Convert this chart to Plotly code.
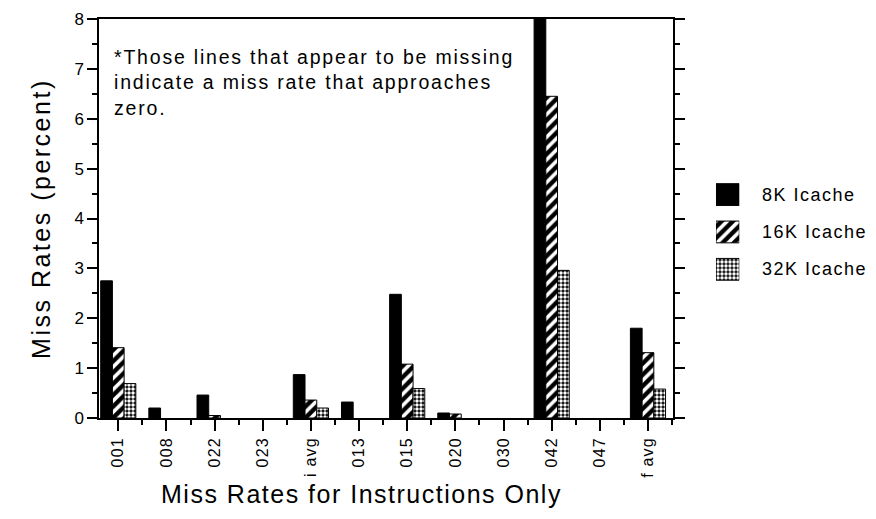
import plotly.graph_objects as go

# Benchmark programs along the x axis
programs = ["001", "008", "022", "023", "i avg", "013", "015", "020", "030", "042", "047", "f avg"]

# Instruction-cache miss rates (percent) for each cache size
series_names = ["8K Icache", "16K Icache", "32K Icache"]
miss_8k = [2.75, 0.20, 0.46, 0.0, 0.87, 0.32, 2.48, 0.10, 0.0, 8.0, 0.0, 1.80]
miss_16k = [1.41, 0.0, 0.05, 0.0, 0.36, 0.0, 1.08, 0.08, 0.0, 6.45, 0.0, 1.31]
miss_32k = [0.69, 0.0, 0.0, 0.0, 0.20, 0.0, 0.59, 0.0, 0.0, 2.96, 0.0, 0.58]

y_ticks = [0, 1, 2, 3, 4, 5, 6, 7, 8]

note_lines = [
    "*Those lines that appear to be missing",
    "indicate a miss rate that approaches",
    "zero.",
]
x_title = "Miss Rates for Instructions Only"
y_title = "Miss Rates (percent)"

FONT = "Liberation Sans, Arial, Helvetica, sans-serif"


def spaced(text, px):
    """Wrap text in a span with extra letter spacing (typewriter-like look)."""
    return f'<span style="letter-spacing:{px}px">{text}</span>'


# Fill styles: solid black, white stripes on black, fine dotted screen
fills = [
    dict(color="black", pattern=dict(shape="")),
    dict(color="black", pattern=dict(shape="/", bgcolor="black", fgcolor="white",
                                     size=8, solidity=0.45, fillmode="replace")),
    dict(color="white", pattern=dict(shape=".", bgcolor="black", fgcolor="white",
                                     size=4, solidity=0.6, fillmode="replace")),
]

values = [miss_8k, miss_16k, miss_32k]
positions = list(range(len(programs)))

fig = go.Figure()

for name, vals, fill in zip(series_names, values, fills):
    # bars at zero height get no outline so they vanish into the axis
    fig.add_trace(go.Bar(
        x=positions, y=vals, name=name,
        marker=dict(color=fill["color"], pattern=fill["pattern"],
                    line=dict(color="black", width=[1 if v > 0 else 0 for v in vals])),
        hoverinfo="skip", showlegend=False,
    ))

# Key swatches drawn as bars on a hidden side axis
for i, (name, fill) in enumerate(zip(series_names, fills)):
    fig.add_trace(go.Bar(
        x=[1], y=[i], orientation="h", xaxis="x2", yaxis="y2",
        width=[0.583], offset=-0.2915, name=name,
        marker=dict(color=fill["color"], pattern=fill["pattern"],
                    line=dict(color="black", width=1)),
        hoverinfo="skip", showlegend=False,
    ))

axis_line = dict(showline=True, linecolor="black", linewidth=1.5,
                 showgrid=False, zeroline=False)

fig.update_layout(
    width=876, height=519,
    margin=dict(l=99, r=10, t=15, b=101),
    paper_bgcolor="white", plot_bgcolor="white",
    barmode="group", bargap=0.27, bargroupgap=0,
    showlegend=False,
    font=dict(family=FONT, color="black"),
    xaxis=dict(
        domain=[0, 0.7484], range=[-0.4, 11.52],
        tickvals=positions, ticktext=[spaced(p, 1.2) for p in programs],
        tickangle=-90, tickfont=dict(size=16, family=FONT),
        ticks="outside", ticklen=11, tickwidth=1.5, tickcolor="black",
        ticklabelstandoff=0,
        mirror=True,
        minor=dict(tick0=0.5, dtick=1, ticks="outside", ticklen=5,
                   tickwidth=1.5, tickcolor="black", showgrid=False),
        **axis_line,
    ),
    yaxis=dict(
        range=[0, 8], tickvals=y_ticks,
        tickfont=dict(size=17, family=FONT),
        ticks="outside", ticklen=10, tickwidth=1.5, tickcolor="black",
        mirror="ticks",
        minor=dict(dtick=0.5, ticks="outside", ticklen=5,
                   tickwidth=1.5, tickcolor="black", showgrid=False),
        **axis_line,
    ),
    xaxis2=dict(domain=[0.8044, 0.8348], range=[0, 1], visible=False,
                anchor="y2", fixedrange=True),
    yaxis2=dict(domain=[0.3258, 0.6068], range=[2.5, -0.5], visible=False,
                anchor="x2", fixedrange=True),
)

annotations = []

# Key labels
for i, name in enumerate(series_names):
    annotations.append(dict(
        text=spaced(name, 1.5), xref="paper", yref="y2", x=0.862, y=i,
        xanchor="left", yanchor="middle", showarrow=False,
        font=dict(size=18, family=FONT, color="black"),
    ))

# Note inside the plot
annotations.append(dict(
    text="<br>".join(spaced(line, 1.8) for line in note_lines),
    xref="paper", yref="paper", x=0.017, y=0.937,
    xanchor="left", yanchor="top", align="left", showarrow=False,
    font=dict(size=19.5, family=FONT, color="black"),
))

# Axis titles
annotations.append(dict(
    text=spaced(x_title, 1.5), xref="paper", yref="paper",
    x=0.3416, y=-0.19, xanchor="center", yanchor="middle", showarrow=False,
    font=dict(size=25, family=FONT, color="black"),
))
annotations.append(dict(
    text=spaced(y_title, 2.5), xref="paper", yref="paper",
    x=-0.0756, y=0.499, xanchor="center", yanchor="middle", textangle=-90,
    showarrow=False, font=dict(size=25, family=FONT, color="black"),
))

fig.update_layout(annotations=annotations)

fig.write_html("out.html")
